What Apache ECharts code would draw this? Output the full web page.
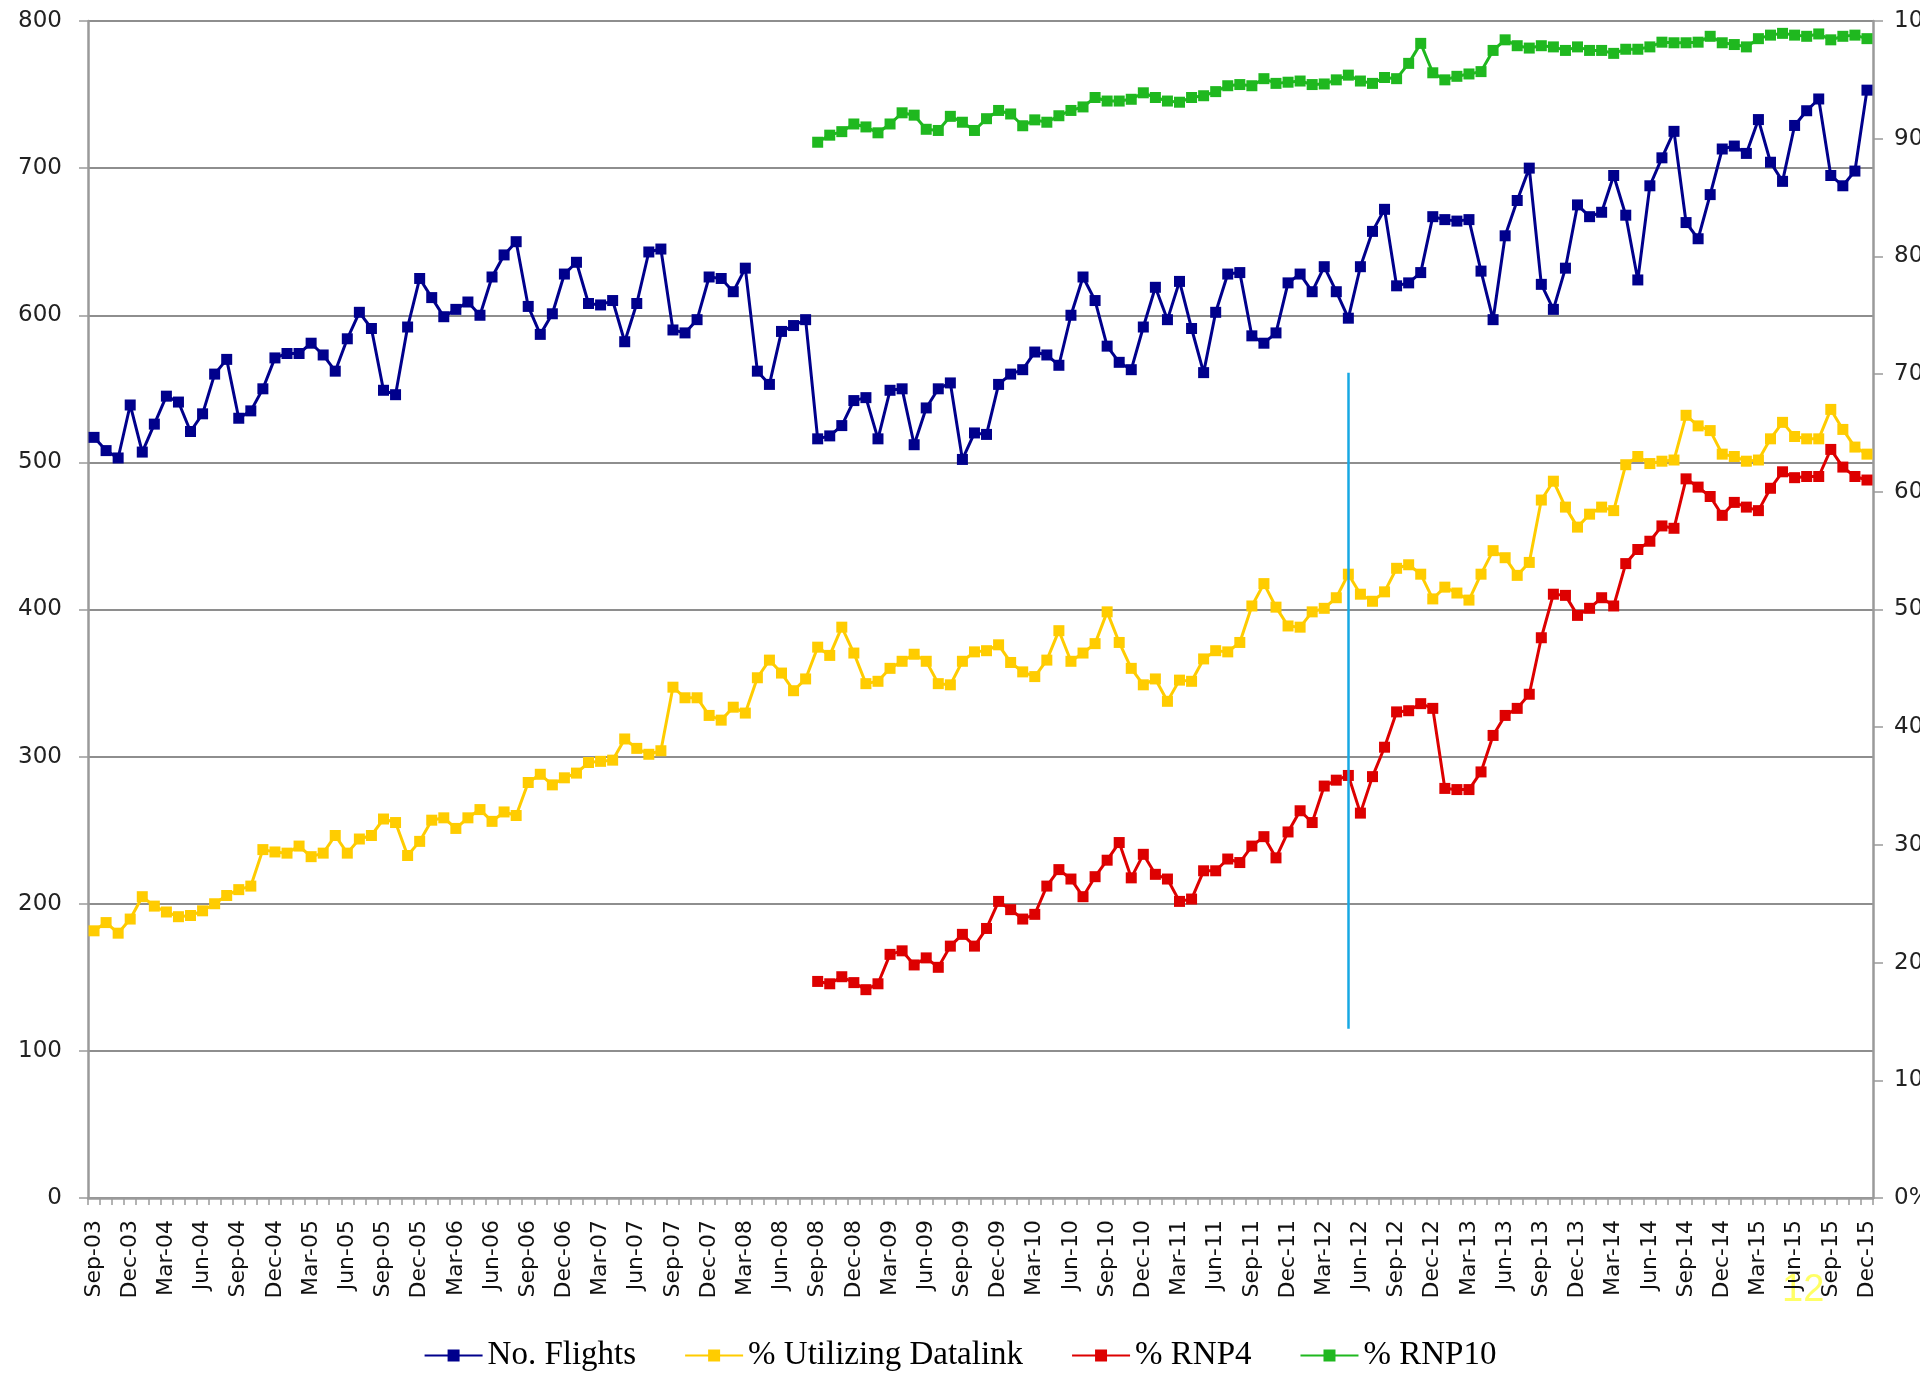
<!DOCTYPE html>
<html>
<head>
<meta charset="utf-8">
<script src="https://cdn.jsdelivr.net/npm/echarts@6/dist/echarts.min.js"></script>
<style>html,body{margin:0;padding:0;background:#fff;}#chart{width:1920px;height:1373px;}</style>
</head>
<body>
<div id="chart"></div>
<script>
// ---- Data ----
const monthNames = ['Jan','Feb','Mar','Apr','May','Jun','Jul','Aug','Sep','Oct','Nov','Dec'];
const categories = [];
for (let k = 0; k < 148; k++) {
  const m = (8 + k) % 12;
  const y = 2003 + Math.floor((8 + k) / 12);
  categories.push(monthNames[m] + '-' + String(y % 100).padStart(2, '0'));
}
// No. Flights (left axis), Sep-03 .. Dec-15
const flights = [
  517, 508, 503, 539, 507, 526, 545, 541, 521, 533, 560, 570, 530, 535, 550,
  571, 574, 574, 581, 573, 562, 584, 602, 591, 549, 546, 592, 625, 612, 599, 604, 609, 600, 626, 641, 650, 606,
  587, 601, 628, 636, 608, 607, 610, 582, 608, 643, 645, 590, 588, 597, 626, 625, 616, 632, 562, 553, 589, 593, 597,
  516, 518, 525, 542, 544, 516, 549, 550, 512, 537, 550, 554, 502, 520, 519,
  553, 560, 563, 575, 573, 566, 600, 626, 610, 579, 568, 563, 592, 619, 597, 623, 591, 561, 602, 628, 629, 586, 581, 588, 622, 628, 616, 633, 616, 598, 633, 657, 672, 620, 622, 629, 667,
  665, 664, 665, 630, 597, 654, 678, 700, 621, 604, 632, 675, 667, 670, 695, 668, 624, 688, 707, 725, 663, 652, 682, 713, 715, 710, 733, 704, 691, 729, 739, 747, 695, 688, 698, 753
];
// % Utilizing Datalink (right axis), Sep-03 .. Dec-15
const datalink = [
  22.7, 23.4, 22.5, 23.7, 25.6, 24.8, 24.3, 23.9, 24.0, 24.4, 25.0, 25.7, 26.2, 26.5, 29.6,
  29.4, 29.3, 29.9, 29.0, 29.3, 30.8, 29.3, 30.5, 30.8, 32.2, 31.9, 29.1, 30.3, 32.1, 32.3, 31.4, 32.3, 33.0, 32.0, 32.8, 32.5, 35.3,
  36.0, 35.1, 35.7, 36.1, 37.0, 37.1, 37.2, 39.0, 38.2, 37.7, 38.0, 43.4, 42.5, 42.5, 41.0, 40.6, 41.7, 41.2, 44.2, 45.7, 44.6, 43.1, 44.1,
  46.8, 46.1, 48.5, 46.3, 43.7, 43.9, 45.0, 45.6, 46.2, 45.6, 43.7, 43.6, 45.6, 46.4, 46.5,
  47.0, 45.5, 44.7, 44.3, 45.7, 48.2, 45.6, 46.3, 47.1, 49.8, 47.2, 45.0, 43.6, 44.1, 42.2, 44.0, 43.9, 45.8, 46.5, 46.4, 47.2, 50.3, 52.2, 50.2, 48.6, 48.5, 49.8, 50.1, 51.0, 53.0, 51.3, 50.7, 51.5, 53.5, 53.8, 53.0, 50.9,
  51.9, 51.4, 50.8, 53.0, 55.0, 54.4, 52.9, 54.0, 59.3, 60.9, 58.7, 57.0, 58.1, 58.7, 58.4, 62.3, 63.0, 62.4, 62.6, 62.7, 66.5, 65.6, 65.2, 63.2, 63.0, 62.6, 62.7, 64.5, 65.9, 64.7, 64.5, 64.5, 67.0, 65.3, 63.8, 63.2
];
// % RNP4 and % RNP10 (right axis), Sep-08 .. Dec-15
const rnpStart = 60;
const rnp4 = [
  18.4, 18.2, 18.8, 18.3, 17.7, 18.2, 20.7, 21.0, 19.8, 20.4, 19.6, 21.4, 22.4, 21.4, 22.9,
  25.2, 24.5, 23.7, 24.1, 26.5, 27.9, 27.1, 25.6, 27.3, 28.7, 30.2, 27.2, 29.2, 27.5, 27.1, 25.2, 25.4, 27.8, 27.8, 28.8, 28.5, 29.9, 30.7, 28.9, 31.1, 32.9, 31.9, 35.0, 35.5, 35.9, 32.7, 35.8, 38.3, 41.3, 41.4, 42.0, 41.6,
  34.8, 34.7, 34.7, 36.2, 39.3, 41.0, 41.6, 42.8, 47.6, 51.3, 51.2, 49.5, 50.1, 51.0, 50.3, 53.9, 55.1, 55.8, 57.1, 56.9, 61.1, 60.4, 59.6, 58.0, 59.1, 58.7, 58.4, 60.3, 61.7, 61.2, 61.3, 61.3, 63.6, 62.1, 61.3, 61.0
];
const rnp10 = [
  89.7, 90.3, 90.6, 91.25, 91.0, 90.5, 91.25, 92.2, 92.0, 90.8, 90.7, 91.9, 91.4, 90.7, 91.7,
  92.4, 92.1, 91.1, 91.6, 91.4, 91.95, 92.4, 92.7, 93.5, 93.2, 93.2, 93.35, 93.9, 93.5, 93.2, 93.1, 93.5, 93.65, 94.0, 94.5, 94.6, 94.5, 95.1, 94.7, 94.8, 94.9, 94.6, 94.65, 95.0, 95.4, 94.9, 94.7, 95.2, 95.1, 96.4, 98.1, 95.6,
  95.0, 95.3, 95.5, 95.7, 97.5, 98.4, 97.9, 97.7, 97.9, 97.8, 97.5, 97.8, 97.5, 97.5, 97.25, 97.6, 97.6, 97.8, 98.2, 98.15, 98.15, 98.2, 98.7, 98.15, 98.0, 97.8, 98.5, 98.8, 98.95, 98.8, 98.7, 98.9, 98.4, 98.7, 98.8, 98.5
];
const leftTicks = { min: 0, max: 800, interval: 100 };
const rightTicks = { min: 0, max: 100, interval: 10 };
const markerIndex = 104;          // vertical marker line category
const markerRange = [561, 115];   // left-axis values of its ends

// ---- Chart ----
const pad = arr => new Array(rnpStart).fill(null).concat(arr);
const chart = echarts.init(document.getElementById('chart'), null, { renderer: 'canvas' });
const gridColor = '#8e8e8e';
const axisColor = '#9a9a9a';
function lineSeries(name, data, color, yAxisIndex, z) {
  return {
    name, type: 'line', data, yAxisIndex, z,
    symbol: 'rect', symbolSize: 11, showAllSymbol: true,
    lineStyle: { width: 3, color },
    itemStyle: { color },
    emphasis: { disabled: true },
    connectNulls: false
  };
}
const flightsSeries = lineSeries('No. Flights', flights, '#00008c', 0, 5);
flightsSeries.markLine = {
  silent: true,
  symbol: ['none', 'none'],
  label: { show: false },
  lineStyle: { color: '#17a8e3', width: 2.5, type: 'solid' },
  emphasis: { disabled: true },
  data: [[
    { coord: [categories[markerIndex], markerRange[0]] },
    { coord: [categories[markerIndex], markerRange[1]] }
  ]]
};
chart.setOption({
  animation: false,
  backgroundColor: '#ffffff',
  grid: { left: 88, right: 47, top: 21, bottom: 175, containLabel: false, outerBoundsMode: 'none' },
  legend: {
    top: 1334, left: 'center',
    itemWidth: 58, itemHeight: 15, itemGap: 48,
    textStyle: { fontFamily: 'Liberation Serif', fontSize: 33, color: '#000' },
    data: ['No. Flights', '% Utilizing Datalink', '% RNP4', '% RNP10']
  },
  xAxis: {
    type: 'category', data: categories, boundaryGap: true,
    axisLine: { lineStyle: { color: axisColor, width: 2.5 } },
    axisTick: { show: true, interval: 0, length: 7, lineStyle: { color: axisColor, width: 1.5 } },
    axisLabel: {
      interval: 2, rotate: 90, margin: 22,
      fontFamily: 'DejaVu Sans', fontSize: 22, color: '#111'
    },
    splitLine: { show: false }
  },
  yAxis: [
    {
      type: 'value', min: leftTicks.min, max: leftTicks.max, interval: leftTicks.interval,
      axisLine: { show: true, lineStyle: { color: axisColor, width: 2.5 } },
      axisTick: { show: true, length: 9, lineStyle: { color: axisColor, width: 1.5 } },
      axisLabel: { margin: 26, fontFamily: 'DejaVu Sans', fontSize: 23, color: '#222' },
      splitLine: { show: true, lineStyle: { color: gridColor, width: 2 } }
    },
    {
      type: 'value', min: rightTicks.min, max: rightTicks.max, interval: rightTicks.interval,
      position: 'right',
      axisLine: { show: true, lineStyle: { color: axisColor, width: 2.5 } },
      axisTick: { show: true, length: 10, lineStyle: { color: axisColor, width: 1.5 } },
      axisLabel: { margin: 21, fontFamily: 'DejaVu Sans', fontSize: 23, color: '#222', formatter: '{value}%' },
      splitLine: { show: false }
    }
  ],
  series: [
    flightsSeries,
    lineSeries('% Utilizing Datalink', datalink, '#ffcc00', 1, 3),
    lineSeries('% RNP4', pad(rnp4), '#dd0000', 1, 4),
    lineSeries('% RNP10', pad(rnp10), '#1fb81f', 1, 4)
  ],
  graphic: [
    { type: 'text', left: 1782, top: 1272, silent: true,
      style: { text: '12', fontFamily: 'Liberation Sans', fontSize: 38, fill: '#ffff66' } }
  ]
});
</script>
</body>
</html>
